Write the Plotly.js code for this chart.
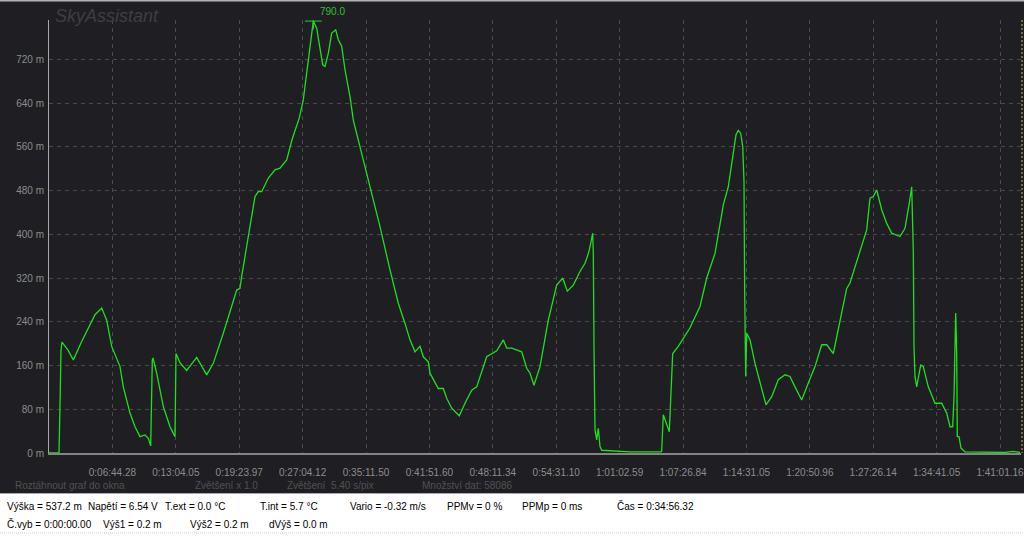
<!DOCTYPE html>
<html><head><meta charset="utf-8">
<script src="https://cdn.plot.ly/plotly-3.0.1.min.js"></script>
<style>html,body{margin:0;padding:0;background:#1f1f23;overflow:hidden}#chart{width:1024px;height:536px}</style>
</head><body><div id="chart"></div>
<script>
// ---- data (sample index, altitude in m) ----
const sampleIdx = [0,600,660,720,780,1140,1458,1962,2760,3162,3462,3762,4260,4458,4860,5160,5460,5760,5958,6102,6198,6240,6462,6858,7260,7560,7620,7860,8262,8862,9462,9858,10458,10962,11262,11460,11562,11958,12360,12558,12762,13158,13560,13860,14262,14580,15018,15258,15618,15762,15858,16062,16260,16422,16560,16758,16962,17202,17358,17562,17760,18060,18258,18660,18960,19362,19860,20460,20958,21360,21660,21960,22260,22458,22758,22860,23358,23658,23862,24162,24618,24960,25362,25662,26262,26862,27258,27462,27762,28362,28662,28860,29100,29460,29958,30462,30822,31098,31458,31860,32160,32298,32418,32622,32658,32700,32760,32862,32958,33060,33162,34860,36720,36762,36858,37218,37302,37362,37422,37758,38460,39060,39462,39960,40458,40758,40962,41220,41358,41502,41622,41700,41742,41802,41862,42060,42360,42660,43020,43362,43758,44160,44460,44760,45162,45558,45960,46362,46662,47058,47460,47862,48060,48558,49062,49260,49458,49662,49962,50262,50562,51060,51360,51618,51762,51858,51900,51960,52062,52302,52458,52758,53160,53562,53862,54060,54222,54300,54360,54402,54462,54498,54600,54720,54960,57060,57360,57840,58260];
const altitude = [0,0,88,187,203,188,170,204,253,265,243,195,158,121,73,48,30,33,27,13,170,174,146,85,48,30,182,165,151,175,143,164,219,271,298,301,323,396,469,478,478,503,518,521,536,573,613,646,731,768,790,777,737,710,707,731,768,774,756,744,701,652,609,561,524,478,414,335,274,237,207,185,195,176,167,146,118,118,100,82,68,91,115,121,176,187,207,192,192,185,155,146,124,158,243,307,320,296,307,332,347,359,371,402,366,195,42,24,45,12,5,2,2,4,70,39,109,158,182,195,229,268,320,365,454,487,527,582,590,585,561,496,289,140,219,207,164,128,88,103,134,143,140,121,97,128,158,198,198,182,243,301,311,359,408,466,469,481,445,420,402,396,411,457,487,371,195,140,121,161,158,121,91,91,73,48,48,103,213,256,182,30,30,9,2,0,1,3,1];
const xTickStep = 3804;
const xTickText = ["0:06:44.28","0:13:04.05","0:19:23.97","0:27:04.12","0:35:11.50","0:41:51.60","0:48:11.34","0:54:31.10","1:01:02.59","1:07:26.84","1:14:31.05","1:20:50.96","1:27:26.14","1:34:41.05","1:41:01.16"];
const yTickVals = [0,80,160,240,320,400,480,560,640,720];
const infoBar = ["Roztáhnout graf do okna","Zvětšení x 1.0","Zvětšení  5.40 s/pix","Množství dat: 58086"];
const statusRow1 = ["Výška = 537.2 m","Napětí = 6.54 V","T.ext = 0.0 °C","T.int = 5.7 °C","Vario = -0.32 m/s","PPMv = 0 %","PPMp = 0 ms","Čas = 0:34:56.32"];
const statusRow2 = ["Č.vyb = 0:00:00.00","Výš1 = 0.2 m","Výš2 = 0.2 m","dVýš = 0.0 m"];

// ---- layout helpers (pixel -> paper) ----
const L = 49, R = 1021, T = 20, B = 453;
const PX = px => (px - L) / (R - L);
const PY = py => (B - py) / (B - T);

const peakAlt = Math.max(...altitude);
const peakX = sampleIdx[altitude.indexOf(peakAlt)];

const traces = [
  {x: sampleIdx, y: altitude, type: 'scatter', mode: 'lines',
   line: {color: '#1ee01e', width: 1.3}, hoverinfo: 'skip'},
  {x: [peakX], y: [peakAlt], type: 'scatter', mode: 'markers',
   marker: {symbol: 'cross-thin-open', size: 12, color: '#2ccc2c', line: {color: '#2ccc2c', width: 1}}, hoverinfo: 'skip'}
];

const font = 'Liberation Sans, Arial, sans-serif';
const ann = [];
ann.push({x: peakX, y: peakAlt, xref: 'x', yref: 'y', text: peakAlt.toFixed(1), showarrow: false,
  xanchor: 'left', yanchor: 'middle', xshift: 5, yshift: 10, font: {family: font, size: 10, color: '#30c030'}});
ann.push({x: PX(53), y: PY(16), xref: 'paper', yref: 'paper', text: '<i>SkyAssistant</i>', showarrow: false,
  xanchor: 'left', yanchor: 'middle', font: {family: font, size: 18, color: '#3e3e44'}});
const infoX = [13, 193, 285, 420];
infoBar.forEach((t, i) => ann.push({x: PX(infoX[i]), y: PY(485), xref: 'paper', yref: 'paper', text: t, showarrow: false,
  xanchor: 'left', yanchor: 'middle', font: {family: font, size: 10, color: '#505054'}}));
const r1X = [5, 86, 163, 258, 348, 445, 520, 615];
statusRow1.forEach((t, i) => ann.push({x: PX(r1X[i]), y: PY(506), xref: 'paper', yref: 'paper', text: t, showarrow: false,
  xanchor: 'left', yanchor: 'middle', font: {family: font, size: 10, color: '#000'}}));
const r2X = [5, 101, 188, 267];
statusRow2.forEach((t, i) => ann.push({x: PX(r2X[i]), y: PY(524), xref: 'paper', yref: 'paper', text: t, showarrow: false,
  xanchor: 'left', yanchor: 'middle', font: {family: font, size: 10, color: '#000'}}));

const shapes = [
  {type: 'rect', xref: 'paper', yref: 'paper', x0: PX(0), x1: PX(1024), y0: PY(493), y1: PY(536), fillcolor: '#ffffff', line: {width: 0}, layer: 'below'},
  {type: 'line', xref: 'paper', yref: 'paper', x0: PX(0), x1: PX(1024), y0: PY(493.5), y1: PY(493.5), line: {color: '#a8a8a8', width: 1}},
  {type: 'line', xref: 'paper', yref: 'paper', x0: PX(0), x1: PX(1024), y0: PY(533), y1: PY(533), line: {color: '#d0d0d0', width: 1, dash: '1px,1px'}},
  {type: 'line', xref: 'paper', yref: 'paper', x0: PX(0), x1: PX(1024), y0: PY(0.5), y1: PY(0.5), line: {color: '#b4b4b4', width: 2}},
  {type: 'line', xref: 'paper', yref: 'paper', x0: PX(1022), x1: PX(1022), y0: PY(20), y1: PY(453), line: {color: '#c8c040', width: 1, dash: '2px,2px'}}
];

const layout = {
  width: 1024, height: 536,
  margin: {l: L, r: 1024 - R, t: T, b: 536 - B, pad: 0},
  paper_bgcolor: '#1f1f23', plot_bgcolor: '#1f1f23',
  showlegend: false,
  xaxis: {range: [0, 58320], tickvals: xTickText.map((t, i) => (i + 1) * xTickStep), ticktext: xTickText,
    showgrid: true, gridcolor: '#4a4a4e', griddash: '4px,4px', gridwidth: 1, zeroline: false,
    showline: true, linecolor: '#848484', linewidth: 2, ticks: '', ticklabelstandoff: 9,
    ticklabeloverflow: 'allow',
    tickfont: {family: font, size: 10, color: '#8c8c8c'}, fixedrange: true},
  yaxis: {range: [0, 792], tickvals: yTickVals, ticktext: yTickVals.map(v => v + ' m'),
    showgrid: true, gridcolor: '#4a4a4e', griddash: '4px,4px', gridwidth: 1, zeroline: false,
    showline: true, linecolor: '#a8a8a8', linewidth: 1, ticks: '', ticklabelstandoff: 2,
    tickfont: {family: font, size: 10, color: '#8c8c8c'}, fixedrange: true},
  annotations: ann, shapes: shapes
};
Plotly.newPlot('chart', traces, layout, {displayModeBar: false, staticPlot: true});
</script></body></html>
